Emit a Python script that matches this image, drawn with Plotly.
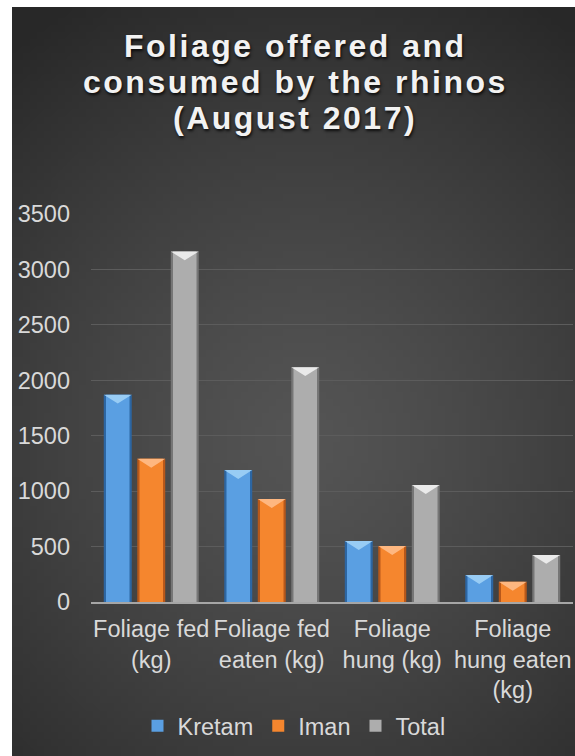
import base64, struct, zlib, math
import plotly.graph_objects as go

# ---------------- data ----------------
categories = ["Foliage fed<br>(kg)", "Foliage fed<br>eaten (kg)", "Foliage<br>hung (kg)", "Foliage<br>hung eaten<br>(kg)"]
kretam = [1870, 1190, 550, 243]
iman = [1292, 928, 505, 182]
total = [3162, 2118, 1055, 425]
series_names = ["Kretam", "Iman", "Total"]
y_ticks = [0, 500, 1000, 1500, 2000, 2500, 3000, 3500]
title_lines = ["Foliage offered and", "consumed by the rhinos", "(August 2017)"]

# ---------------- style ----------------
W, H = 575, 756
PL, PR, PT, PB = 91, 2, 214, 154           # plot area margins (px)
pw, ph = W - PL - PR, H - PT - PB
FONT = "Liberation Sans, Arial, sans-serif"

edge_cols = ["#2c66a3", "#b8581a", "#767676"]
mid_cols = ["#5a9fe2", "#f5862e", "#adadad"]
hi_cols = ["#a3d4f7", "#ffc08e", "#f4f4f4"]
offsets_c = [-0.278, 0.0, 0.278]
bar_w = 0.232
inner_w = 0.195
bevel_depth = 80   # in axis units (~9px)


def gradient_png(w, h):
    rows = []
    cx, cy = 0.52, 0.58
    for j in range(h):
        row = bytearray([0])
        for i in range(w):
            dx = (i / (w - 1) - cx) * 1.0
            dy = (j / (h - 1) - cy) * 1.25
            d = min(1.0, math.sqrt(dx * dx + dy * dy) / 0.85)
            v = int(round(84 - (84 - 40) * d ** 1.3))
            row += bytes([v, v, v])
        rows.append(bytes(row))
    raw = b"".join(rows)

    def chunk(t, data):
        c = struct.pack(">I", len(data)) + t + data
        return c + struct.pack(">I", zlib.crc32(t + data) & 0xFFFFFFFF)

    png = b"\x89PNG\r\n\x1a\n"
    png += chunk(b"IHDR", struct.pack(">IIBBBBB", w, h, 8, 2, 0, 0, 0))
    png += chunk(b"IDAT", zlib.compress(raw, 9))
    png += chunk(b"IEND", b"")
    return "data:image/png;base64," + base64.b64encode(png).decode()


x_idx = list(range(len(categories)))
fig = go.Figure()
all_series = [kretam, iman, total]
for k, (name, vals) in enumerate(zip(series_names, all_series)):
    # outer (dark edge) bar
    fig.add_trace(go.Bar(
        x=x_idx, y=vals, name=name, width=bar_w,
        offset=offsets_c[k] - bar_w / 2,
        marker=dict(color=edge_cols[k], line=dict(width=0)),
        showlegend=False, hoverinfo="skip"))
    # inner lighter body
    fig.add_trace(go.Bar(
        x=x_idx, y=vals, name=name, width=inner_w,
        offset=offsets_c[k] - inner_w / 2,
        marker=dict(color=mid_cols[k], line=dict(width=0)),
        showlegend=True))
for k, vals in enumerate(all_series):
    # top bevel highlight (triangle at each bar top)
    bx, by = [], []
    for i, v in zip(x_idx, vals):
        c = i + offsets_c[k]
        bx += [c - bar_w / 2, c + bar_w / 2, c, c - bar_w / 2, None]
        by += [v, v, v - bevel_depth, v, None]
    fig.add_trace(go.Scatter(
        x=bx, y=by, mode="lines", fill="toself", fillcolor=hi_cols[k],
        line=dict(width=0, color=hi_cols[k]), showlegend=False,
        hoverinfo="skip", opacity=0.85))

fig.add_layout_image(dict(
    source=gradient_png(80, 106), xref="paper", yref="paper",
    x=(12 - PL) / pw, y=(H - PB - 7) / ph,
    sizex=(W - 12) / pw, sizey=(H - 7) / ph,
    xanchor="left", yanchor="top", sizing="stretch", layer="below"))

title_centers = [45.5, 81.5, 117.5]
for line, cy in zip(title_lines, title_centers):
    fig.add_annotation(
        text='<span style="letter-spacing:2.5px">%s</span>' % line,
        xref="paper", yref="paper", x=(295 - PL) / pw, y=(H - PB - cy) / ph,
        xanchor="center", yanchor="middle", showarrow=False,
        font=dict(size=32, color="#f2f2f2", weight="bold", family=FONT,
                  shadow="1px 2px 3px rgba(0,0,0,0.8)"))

fig.update_layout(
    width=W, height=H,
    margin=dict(l=PL, r=PR, t=PT, b=PB, pad=0),
    paper_bgcolor="white", plot_bgcolor="rgba(0,0,0,0)",
    barmode="overlay",
    font=dict(family=FONT, color="#d9d9d9", size=23.5),
    xaxis=dict(tickvals=x_idx, ticktext=categories, showgrid=False, showline=True,
               linecolor="#a6a6a6", linewidth=2, ticks="",
               tickfont=dict(size=23.5, color="#d9d9d9"),
               ticklabelstandoff=5, range=[-0.5, 3.5], zeroline=False),
    yaxis=dict(range=[0, 3500], tickvals=y_ticks, showgrid=True, gridcolor="#5c5c5c",
               gridwidth=1, zeroline=False, showline=False, ticks="",
               tickfont=dict(size=23.5, color="#d9d9d9"), ticklabelstandoff=20),
    legend=dict(orientation="h", x=(294 - PL) / pw, xanchor="center",
                y=(H - PB - 726) / ph, yanchor="middle",
                font=dict(size=23.5, color="#d9d9d9"), bgcolor="rgba(0,0,0,0)",
                itemwidth=30, traceorder="normal"),
    showlegend=True,
)

fig.write_html("out.html")
